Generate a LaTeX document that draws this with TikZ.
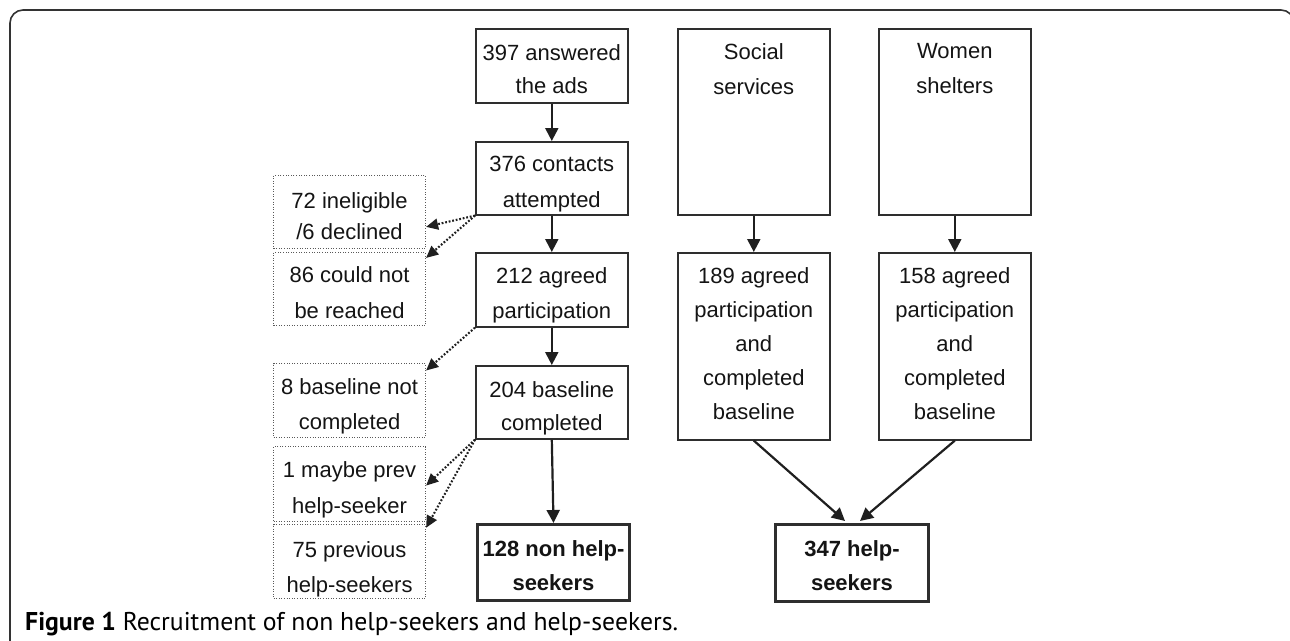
\documentclass[tikz,border=0pt]{standalone}
\usepackage{fontspec}
\setmainfont{Liberation Sans}
\newfontfamily\capfont{PT Sans}
\usetikzlibrary{arrows.meta,calc}
\begin{document}
\begin{tikzpicture}[x=1pt,y=-1pt,
  every node/.style={font=\fontsize{22}{34}\selectfont, text=black!92},
  box/.style={draw=black!82, line width=1.6pt, minimum width=152pt, inner sep=0pt, anchor=north west},
  thickbox/.style={box, line width=3pt},
  dbox/.style={draw=black!65, dash pattern=on 1pt off 1.6pt, line width=1.1pt, minimum width=152pt, inner sep=0pt, anchor=north west},
  txt/.style={anchor=north, inner sep=0pt, align=center},
  btxt/.style={txt, font=\bfseries\fontsize{22}{34}\selectfont},
  arr/.style={-{Triangle[length=13pt,width=13pt]}, line width=2.2pt, draw=black!88},
  darr/.style={-{Triangle[length=12pt,width=11pt]}, line width=2.1pt, dash pattern=on 1.8pt off 1.8pt, draw=black!88}]
\useasboundingbox (0,0) rectangle (1290,640);
\clip (0,0) rectangle (1290,640);
\draw[draw=black!80, line width=1.6pt, rounded corners=13pt] (10,10) rectangle (1294,680);

% left column
\node[box, minimum height=74pt] (ads) at (475,28) {};
\node[txt] (adst) at ($(ads.north)+(0,16)$) {397 answered\\[-1pt]the ads};
\node[box, minimum height=73pt] (con) at (475,141) {};
\node[txt] (cont) at ($(con.north)+(0,15)$) {376 contacts\\[2pt]attempted};
\node[box, minimum height=74pt] (agr) at (475,252) {};
\node[txt] (agrt) at ($(agr.north)+(0,15.5)$) {212 agreed\\[1pt]participation};
\node[box, minimum height=73pt] (bas) at (475,365) {};
\node[txt] (bast) at ($(bas.north)+(0,16)$) {204 baseline\\[-1pt]completed};
\node[thickbox, minimum height=76pt] (non) at (476,523) {};
\node[btxt] (nont) at ($(non.north)+(0,17)$) {128 non help-\\seekers};

% dotted boxes
\node[dbox, minimum height=73pt] (d1) at (273,175) {};
\node[txt] (d1t) at ($(d1.north)+(0,17)$) {72 ineligible\\[-3pt]/6 declined\hspace{22pt}};
\node[dbox, minimum height=73pt] (d2) at (273,252) {};
\node[txt] (d2t) at ($(d2.north)+(0,14.5)$) {86 could not\\[2pt]be reached};
\node[dbox, minimum height=74pt] (d3) at (273,363) {};
\node[txt] (d3t) at ($(d3.north)+(0,15.5)$) {8 baseline not\\[1pt]completed};
\node[dbox, minimum height=75pt] (d4) at (273,446) {};
\node[txt] (d4t) at ($(d4.north)+(0,15.5)$) {1 maybe prev\\[2pt]help-seeker};
\node[dbox, minimum height=74pt] (d5) at (273,524) {};
\node[txt] (d5t) at ($(d5.north)+(0,17)$) {75 previous\\[1pt]help-seekers};

% right columns
\node[box, minimum height=186pt] (soc) at (677,28) {};
\node[txt] (soct) at ($(soc.north)+(0,15.5)$) {Social\\[1pt]services};
\node[box, minimum height=187pt] (soa) at (677,252) {};
\node[txt] (soat) at ($(soa.north)+(0,15.5)$) {189 agreed\\participation\\and\\completed\\baseline};
\node[box, minimum height=186pt] (wom) at (878,28) {};
\node[txt] (womt) at ($(wom.north)+(0,15.5)$) {Women\\[1pt]shelters};
\node[box, minimum height=187pt] (woa) at (878,252) {};
\node[txt] (woat) at ($(woa.north)+(0,15.5)$) {158 agreed\\participation\\and\\completed\\baseline};
\node[thickbox, minimum height=77pt, minimum width=153pt] (hs) at (774,523) {};
\node[btxt] (hst) at ($(hs.north)+(0,17)$) {347 help-\\seekers};

% solid arrows
\draw[arr] (ads.south) -- (con.north);
\draw[arr] (con.south) -- (agr.north);
\draw[arr] (agr.south) -- (bas.north);
\draw[arr] (bas.south) -- (non.north);
\draw[arr] (soc.south) -- (soa.north);
\draw[arr] (wom.south) -- (woa.north);
\draw[arr] (soa.south) -- ($(hs.north)+(-7,-2)$);
\draw[arr] (woa.south) -- ($(hs.north)+(8,-2)$);

% dotted arrows
\draw[darr] (con.south west) -- ($(d1.north east)!0.7!(d1.south east)$);
\draw[darr] (con.south west) -- ($(d2.north east)!0.08!(d2.south east)$);
\draw[darr] (agr.south west) -- ($(d3.north east)!0.1!(d3.south east)$);
\draw[darr] (bas.south west) -- ($(d4.north east)!0.52!(d4.south east)$);
\draw[darr] (bas.south west) -- ($(d5.north east)!0.05!(d5.south east)$);

% caption
\node[anchor=base west, inner sep=0pt, text=black, font=\capfont\fontsize{25.7}{28}\selectfont] (cap) at (25,630) {\textbf{Figure 1} Recruitment of non help-seekers and help-seekers.};
\end{tikzpicture}
\end{document}
